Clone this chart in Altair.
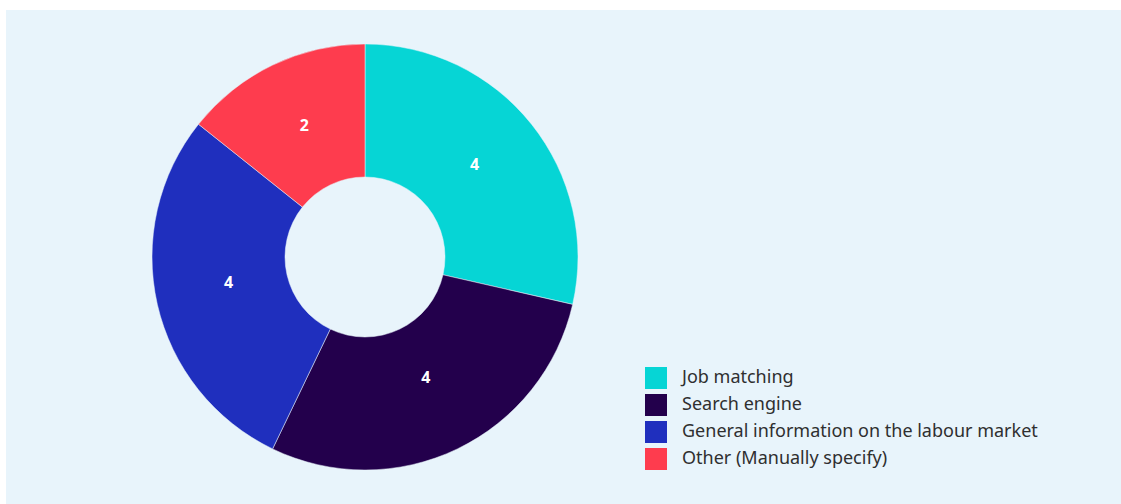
import altair as alt
import pandas as pd

categories = ["Job matching", "Search engine", "General information on the labour market", "Other (Manually specify)"]
values = [4, 4, 4, 2]
colors = ["#06D5D5", "#23004C", "#1F2FBE", "#FE3C4E"]

df = pd.DataFrame({"category": categories, "value": values, "idx": list(range(len(categories)))})

BG = "#E8F4FB"
cx, cy = 359, 247

color_enc = alt.Color(
    "category:N",
    scale=alt.Scale(domain=categories, range=colors),
    sort=categories,
    legend=alt.Legend(
        title=None,
        orient="none",
        legendX=639,
        legendY=357,
        symbolType="square",
        symbolSize=484,
        symbolStrokeWidth=0,
        symbolOpacity=1,
        labelFont="Noto Sans",
        labelFontSize=18,
        labelColor="#2f2f2f",
        labelOffset=15,
        rowPadding=5,
        labelLimit=600,
        padding=0,
    ),
)

base = alt.Chart(df).encode(
    theta=alt.Theta("value:Q", stack=True),
    order=alt.Order("idx:Q"),
)

arcs = base.mark_arc(innerRadius=80, outerRadius=213, stroke=BG, strokeWidth=0.5).encode(
    color=color_enc,
    x=alt.value(cx),
    y=alt.value(cy),
)

labels = base.mark_text(
    radius=140, font="Noto Sans", fontSize=16, fontWeight="bold", color="white", dy=-5
).encode(
    text=alt.Text("value:Q"),
    x=alt.value(cx),
    y=alt.value(cy),
)

chart = (
    alt.layer(arcs, labels)
    .properties(
        width=1115,
        height=494,
        padding={"left": 6, "top": 10, "right": 0, "bottom": 0},
        background="white",
        autosize=alt.AutoSizeParams(type="none"),
    )
    .configure_view(fill=BG, stroke=None)
)

chart.save("out.html", embed_options={"renderer": "svg", "actions": False})
